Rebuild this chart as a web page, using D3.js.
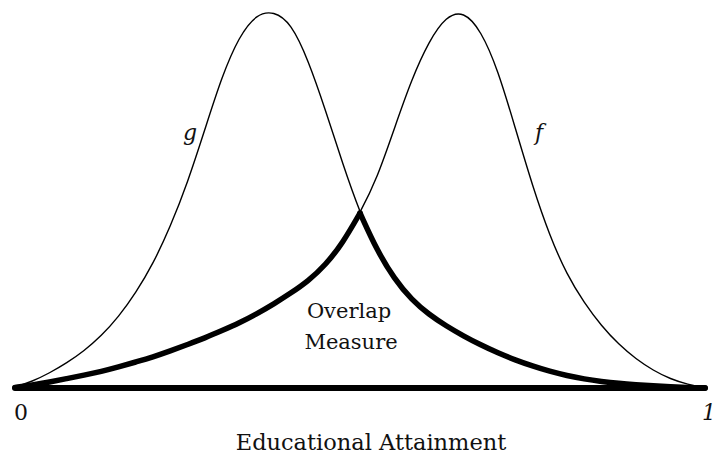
<!DOCTYPE html>
<html>
<head>
<meta charset="utf-8">
<script src="https://cdn.jsdelivr.net/npm/d3@7"></script>
<style>
  body { margin: 0; background: #fff; }
  text { font-family: "DejaVu Serif", "Liberation Serif", serif; fill: #111; }
</style>
</head>
<body>
<div id="chart"></div>
<script>
var width = 717, height = 457;

// educational attainment, 0..1
var xs = [0, 0.025, 0.05, 0.075, 0.1, 0.125, 0.15, 0.175, 0.2, 0.225,
          0.25, 0.275, 0.3, 0.325, 0.35, 0.375, 0.4, 0.425, 0.45, 0.475,
          0.5, 0.525, 0.55, 0.575, 0.6, 0.625, 0.65, 0.675, 0.7, 0.725,
          0.75, 0.775, 0.8, 0.825, 0.85, 0.875, 0.9, 0.925, 0.95, 0.975, 1];

// density g (left group)
var gVals = [0.01, 0.065, 0.15, 0.25, 0.37, 0.52, 0.71, 0.95, 1.24, 1.61,
             2.05, 2.58, 3.12, 3.52, 3.74, 3.77, 3.65, 3.28, 2.78, 2.24,
             1.75, 1.37, 1.09, 0.88, 0.735, 0.62, 0.52, 0.43, 0.35, 0.28,
             0.22, 0.166, 0.124, 0.09, 0.065, 0.046, 0.033, 0.022, 0.013, 0.006, 0];

// density f (right group)
var fVals = [0.005, 0.03, 0.06, 0.094, 0.128, 0.165, 0.21, 0.26, 0.31, 0.37,
             0.435, 0.50, 0.574, 0.65, 0.74, 0.84, 0.95, 1.07, 1.23, 1.45,
             1.75, 2.1, 2.6, 3.09, 3.47, 3.72, 3.77, 3.58, 3.18, 2.6,
             2.02, 1.52, 1.13, 0.85, 0.62, 0.435, 0.29, 0.175, 0.09, 0.035, 0.005];

var endLabels = ["0", "1"];

var x = d3.scaleLinear().domain([0, 1]).range([15, 705]),
    y = d3.scaleLinear().domain([0, 3.76]).range([388, 12]);

var svg = d3.select("#chart").append("svg")
    .attr("width", width)
    .attr("height", height);

var gData = xs.map(function(d, i) { return {x: d, y: gVals[i]}; }),
    fData = xs.map(function(d, i) { return {x: d, y: fVals[i]}; }),
    overlap = xs.map(function(d, i) { return {x: d, y: Math.min(gVals[i], fVals[i])}; });

var line = d3.line()
    .x(function(d) { return x(d.x); })
    .y(function(d) { return y(d.y); })
    .curve(d3.curveBasis);

svg.append("path")
    .datum(gData)
    .attr("fill", "none")
    .attr("stroke", "#000")
    .attr("stroke-width", 1.4)
    .attr("d", line);

svg.append("path")
    .datum(fData)
    .attr("fill", "none")
    .attr("stroke", "#000")
    .attr("stroke-width", 1.4)
    .attr("d", line);

// lower envelope, split at the crossing so the peak stays sharp
var mid = xs.indexOf(0.5);
[overlap.slice(0, mid + 1), overlap.slice(mid)].forEach(function(part) {
  svg.append("path")
      .datum(part)
      .attr("fill", "none")
      .attr("stroke", "#000")
      .attr("stroke-width", 5.5)
      .attr("stroke-linejoin", "round")
      .attr("stroke-linecap", "round")
      .attr("d", line);
});

// baseline
svg.append("line")
    .attr("x1", x(0)).attr("x2", x(1))
    .attr("y1", y(0)).attr("y2", y(0))
    .attr("stroke", "#000")
    .attr("stroke-width", 6)
    .attr("stroke-linecap", "round");

svg.append("text")
    .attr("x", x(0) + 6).attr("y", 420)
    .attr("text-anchor", "middle")
    .style("font-size", "22px")
    .text(endLabels[0]);

svg.append("text")
    .attr("x", 716).attr("y", 420)
    .attr("text-anchor", "end")
    .style("font-size", "22px")
    .style("font-style", "italic")
    .text(endLabels[1]);

svg.append("text")
    .attr("x", 371).attr("y", 450)
    .attr("text-anchor", "middle")
    .style("font-size", "22.5px")
    .text("Educational Attainment");

svg.append("text")
    .attr("x", 349).attr("y", 318)
    .attr("text-anchor", "middle")
    .style("font-size", "21px")
    .text("Overlap");

svg.append("text")
    .attr("x", 351).attr("y", 349)
    .attr("text-anchor", "middle")
    .style("font-size", "21px")
    .text("Measure");

svg.append("text")
    .attr("x", 190).attr("y", 140)
    .attr("text-anchor", "middle")
    .style("font-size", "22px")
    .style("font-style", "italic")
    .text("g");

svg.append("text")
    .attr("x", 539).attr("y", 140)
    .attr("text-anchor", "middle")
    .style("font-size", "22px")
    .style("font-style", "italic")
    .text("f");
</script>
</body>
</html>
